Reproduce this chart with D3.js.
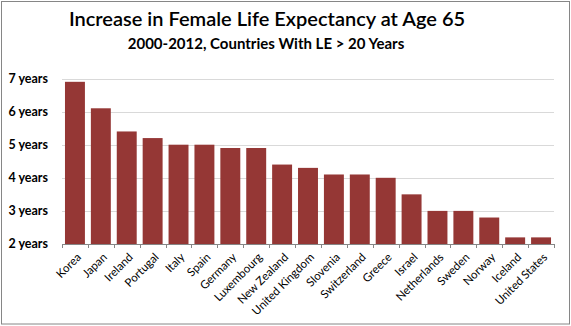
<!DOCTYPE html>
<html>
<head>
<meta charset="utf-8">
<script src="https://cdn.jsdelivr.net/npm/d3@7"></script>
<style>
  body { margin: 0; background: #fff; }
  svg text { font-family: Lato, "Open Sans", sans-serif; fill: #000; }
  .grid line { stroke: #d9d9d9; stroke-width: 1px; }
  .x-axis path, .x-axis line { stroke: #868686; }
  .bar { fill: #953735; }
</style>
</head>
<body>
<svg id="chart"></svg>
<script>
var countries = ["Korea", "Japan", "Ireland", "Portugal", "Italy", "Spain", "Germany",
  "Luxembourg", "New Zealand", "United Kingdom", "Slovenia", "Switzerland", "Greece",
  "Israel", "Netherlands", "Sweden", "Norway", "Iceland", "United States"];
var increase = [6.9, 6.1, 5.4, 5.2, 5.0, 5.0, 4.9, 4.9, 4.4, 4.3, 4.1, 4.1, 4.0,
  3.5, 3.0, 3.0, 2.8, 2.2, 2.2];
var yTicks = [2, 3, 4, 5, 6, 7];
var title = "Increase in Female Life Expectancy at Age 65";
var subtitle = "2000-2012, Countries With LE > 20 Years";

var width = 571, height = 326;
var plot = { left: 62, right: 554, top: 78.5, bottom: 244 };

var svg = d3.select("#chart")
  .attr("width", width)
  .attr("height", height);

// outer frame
svg.append("rect")
  .attr("x", 1.5)
  .attr("y", 1.5)
  .attr("width", 568)
  .attr("height", 322.5)
  .attr("fill", "#fff")
  .attr("stroke", "#868686");

var xScale = d3.scaleBand()
  .domain(countries)
  .range([plot.left, plot.right])
  .paddingInner(0.23)
  .paddingOuter(0.115);

var yScale = d3.scaleLinear()
  .domain([2, 7])
  .range([plot.bottom, plot.top]);

// horizontal gridlines
svg.append("g")
  .attr("class", "grid")
  .selectAll("line")
  .data(yTicks.filter(function (d) { return d > 2; }))
  .enter()
  .append("line")
  .attr("x1", plot.left)
  .attr("x2", plot.right)
  .attr("y1", function (d) { return Math.round(yScale(d)) + 0.5; })
  .attr("y2", function (d) { return Math.round(yScale(d)) + 0.5; });

// y tick labels
svg.append("g")
  .selectAll("text")
  .data(yTicks)
  .enter()
  .append("text")
  .attr("x", 48)
  .attr("y", function (d) { return yScale(d); })
  .attr("dy", "0.35em")
  .attr("text-anchor", "end")
  .style("font-size", "12.5px")
  .style("font-weight", "bold")
  .text(function (d) { return d + " years"; });

svg.append("g")
  .selectAll("rect")
  .data(increase)
  .enter()
  .append("rect")
  .attr("class", "bar")
  .attr("x", function (d, i) { return xScale(countries[i]); })
  .attr("width", xScale.bandwidth())
  .attr("y", function (d) { return yScale(d); })
  .attr("height", function (d) { return yScale(2) - yScale(d); });

// category axis: baseline with ticks on band edges
var edges = d3.range(countries.length + 1).map(function (i) {
  return plot.left + i * (plot.right - plot.left) / countries.length;
});
var xAxis = svg.append("g").attr("class", "x-axis");
xAxis.append("line")
  .attr("x1", plot.left)
  .attr("x2", plot.right)
  .attr("y1", plot.bottom + 0.5)
  .attr("y2", plot.bottom + 0.5);
xAxis.selectAll("line.tick")
  .data(edges)
  .enter()
  .append("line")
  .attr("class", "tick")
  .attr("x1", function (d) { return Math.round(d) + 0.5; })
  .attr("x2", function (d) { return Math.round(d) + 0.5; })
  .attr("y1", plot.bottom)
  .attr("y2", plot.bottom + 4);

xAxis.selectAll("text")
  .data(countries)
  .enter()
  .append("text")
  .attr("text-anchor", "end")
  .attr("transform", function (d) {
    var cx = xScale(d) + xScale.bandwidth() / 2 + 4;
    return "translate(" + cx + "," + (plot.bottom + 11) + ") rotate(-45)";
  })
  .attr("dy", "0.35em")
  .style("font-size", "11.5px")
  .text(function (d) { return d; });

svg.append("text")
  .attr("x", 267)
  .attr("y", 26)
  .attr("text-anchor", "middle")
  .style("font-size", "20px")
  .style("font-weight", "600")
  .text(title);

svg.append("text")
  .attr("x", 266)
  .attr("y", 49)
  .attr("text-anchor", "middle")
  .style("font-size", "15px")
  .style("font-weight", "bold")
  .text(subtitle);
</script>
</body>
</html>
